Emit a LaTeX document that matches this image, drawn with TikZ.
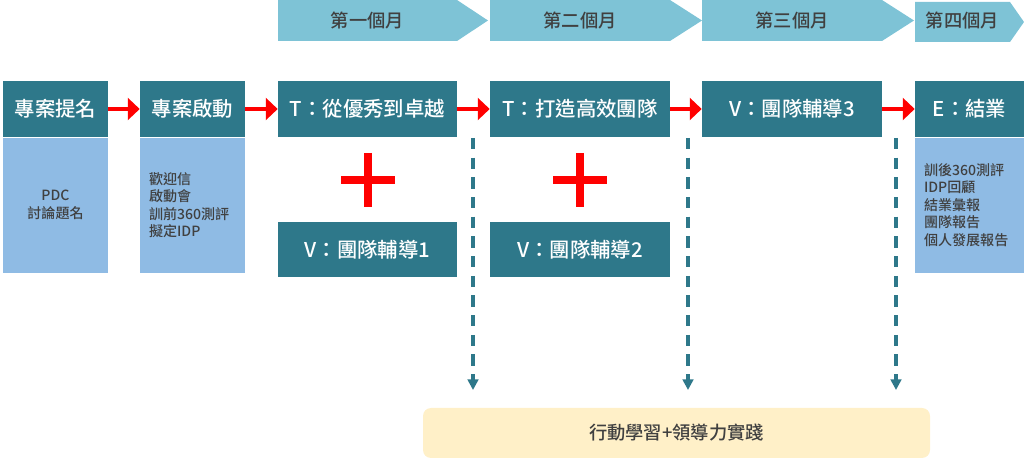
\documentclass[tikz,border=0pt]{standalone}
\usepackage{fontspec}
\setmainfont{Noto Sans CJK TC}[UprightFont={* Medium}]
\usetikzlibrary{arrows.meta, positioning}
\usepackage{xcolor}
\definecolor{dteal}{RGB}{46,120,138}
\definecolor{lblue}{RGB}{143,187,228}
\definecolor{cblue}{RGB}{126,195,214}
\definecolor{ltan}{RGB}{255,240,200}
\definecolor{tgray}{RGB}{64,64,64}

\begin{document}
\begin{tikzpicture}[
  main/.style={fill=dteal,text=white,minimum height=1.4cm,inner sep=0pt,
               font=\fontsize{14.5}{17}\selectfont},
  sub/.style={fill=lblue,text=tgray,minimum height=3.375cm,inner xsep=0.225cm,
              inner ysep=0pt,font=\fontsize{10}{12.4}\selectfont},
  month/.style={text=tgray,font=\fontsize{13}{15}\selectfont},
  redarr/.style={-{Triangle[length=8.5pt,width=15.5pt]},red,line width=2.8pt},
  plus/.style={red,line width=5.7pt},
  darr/.style={-{Triangle[length=7.5pt,width=7.5pt]},dteal,line width=2.2pt,
               dash pattern=on 8pt off 6pt}
]
\useasboundingbox (0,0) rectangle (25.6,-11.5);
% month banners
\fill[cblue] (6.95,0) -- (11.425,0) -- (12.2,-0.5125) -- (11.425,-1.025) -- (6.95,-1.025) -- cycle;
\fill[cblue] (12.25,0) -- (16.75,0) -- (17.55,-0.5125) -- (16.75,-1.025) -- (12.25,-1.025) -- cycle;
\fill[cblue] (17.55,0) -- (22.05,0) -- (22.85,-0.5125) -- (22.05,-1.025) -- (17.55,-1.025) -- cycle;
\fill[cblue] (22.875,-0.05) -- (25.25,-0.05) -- (25.6,-0.55) -- (25.25,-1.05) -- (22.875,-1.05) -- cycle;
\node[month] (m1) at (9.1875,-0.5) {第一個月};
\node[month] (m2) at (14.5,-0.5) {第二個月};
\node[month] (m3) at (19.8,-0.5) {第三個月};
\node[month] (m4) at (24.06,-0.5) {第四個月};
% main row
\node[main,minimum width=2.625cm] (nom)  at (1.3875,-2.725) {專案提名};
\node[main,minimum width=2.625cm] (kick) at (4.8125,-2.725) {專案啟動};
\node[main,minimum width=4.475cm] (t1)   at (9.1875,-2.725) {T：從優秀到卓越};
\node[main,minimum width=4.5cm]   (t2)   at (14.5,-2.725)   {T：打造高效團隊};
\node[main,minimum width=4.5cm]   (v3)   at (19.8,-2.725)   {V：團隊輔導3};
\node[main,minimum width=2.725cm] (fin)  at (24.2375,-2.725) {E：結業};
\draw[redarr] (nom)--(kick); \draw[redarr] (kick)--(t1); \draw[redarr] (t1)--(t2);
\draw[redarr] (t2)--(v3); \draw[redarr] (v3)--(fin);
% details
\node[sub,text width=2.175cm,align=center,below=0pt of nom] (nomd) {PDC\\討論題名};
\node[sub,text width=2.175cm,align=left,below=0pt of kick] (kickd) {歡迎信\\啟動會\\訓前360測評\\擬定IDP};
\node[sub,text width=2.275cm,align=left,below=0pt of fin] (find) {訓後360測評\\IDP回顧\\結業彙報\\團隊報告\\個人發展報告};
% coaching
\node[main,minimum width=4.475cm,minimum height=1.375cm] (v1) at (9.1875,-6.2375) {V：團隊輔導1};
\node[main,minimum width=4.5cm,minimum height=1.375cm]   (v2) at (14.5,-6.2375)   {V：團隊輔導2};
\draw[plus] (8.525,-4.5) -- (9.875,-4.5); \draw[plus] (9.2,-3.825) -- (9.2,-5.175);
\draw[plus] (13.825,-4.5) -- (15.175,-4.5); \draw[plus] (14.5,-3.825) -- (14.5,-5.175);
% action learning
\node[fill=ltan,rounded corners=0.2cm,minimum width=12.675cm,minimum height=1.25cm,
      text=tgray,font=\fontsize{13}{15}\selectfont] (act) at (16.9125,-10.825) {行動學習+領導力實踐};
\coordinate (d1) at (11.825,-3.45); \coordinate (e1) at (11.825,-9.75);
\coordinate (d2) at (17.2,-3.45);   \coordinate (e2) at (17.2,-9.75);
\coordinate (d3) at (22.4,-3.45);   \coordinate (e3) at (22.4,-9.75);
\draw[darr] (d1)--(e1); \draw[darr] (d2)--(e2); \draw[darr] (d3)--(e3);
\end{tikzpicture}
\end{document}
